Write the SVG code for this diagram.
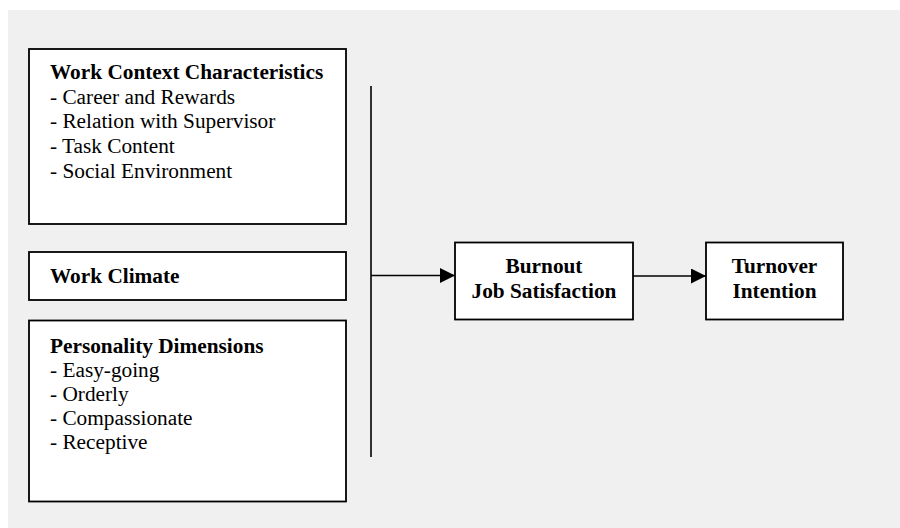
<svg xmlns="http://www.w3.org/2000/svg" width="900" height="528" viewBox="0 0 900 528">
<defs>
<style>
.box{fill:#fff;stroke:#000;stroke-width:1.8}
.t{font-family:"Liberation Serif","Times New Roman",serif;font-size:21.3px;fill:#000}
.b{font-weight:bold}
.c{text-anchor:middle}
.ln{stroke:#000;stroke-width:1.6;fill:none}
</style>
<marker id="ah" markerWidth="15" markerHeight="15" refX="15" refY="7.5" orient="auto" markerUnits="userSpaceOnUse">
<path d="M0,0 L15,7.5 L0,15 Z" fill="#000"/>
</marker>
</defs>
<rect x="8" y="10" width="892" height="518" fill="#f0f0f0"/>
<g id="work-context">
<rect class="box" x="29" y="49" width="317" height="175"/>
<text class="t b" x="50" y="79">Work Context Characteristics</text>
<text class="t" x="50" y="103.5">- Career and Rewards</text>
<text class="t" x="50" y="128.3">- Relation with Supervisor</text>
<text class="t" x="50" y="153.2">- Task Content</text>
<text class="t" x="50" y="178">- Social Environment</text>
</g>
<g id="work-climate">
<rect class="box" x="29" y="252" width="317" height="48"/>
<text class="t b" x="50" y="282.5">Work Climate</text>
</g>
<g id="personality">
<rect class="box" x="29" y="320.5" width="317" height="181"/>
<text class="t b" x="50" y="353">Personality Dimensions</text>
<text class="t" x="50" y="377">- Easy-going</text>
<text class="t" x="50" y="401">- Orderly</text>
<text class="t" x="50" y="425">- Compassionate</text>
<text class="t" x="50" y="449">- Receptive</text>
</g>
<g id="burnout">
<rect class="box" x="455" y="242.5" width="178" height="77"/>
<text class="t b c" x="544" y="273.3">Burnout</text>
<text class="t b c" x="544" y="297.5">Job Satisfaction</text>
</g>
<g id="turnover">
<rect class="box" x="706" y="242.5" width="137" height="77"/>
<text class="t b c" x="774.5" y="273.3">Turnover</text>
<text class="t b c" x="774.5" y="297.5">Intention</text>
</g>
<g id="connectors">
<line class="ln" x1="371" y1="86" x2="371" y2="457"/>
<line class="ln" x1="371" y1="275.5" x2="455" y2="275.5" marker-end="url(#ah)"/>
<line class="ln" x1="633" y1="276" x2="706" y2="276" marker-end="url(#ah)"/>
</g>
</svg>
